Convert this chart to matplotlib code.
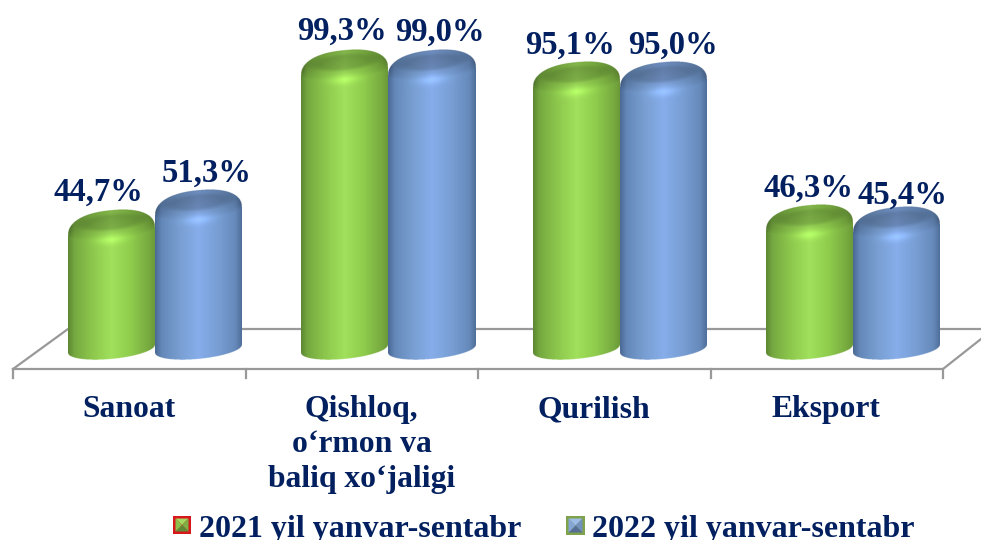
import numpy as np
import matplotlib
matplotlib.use("Agg")
import matplotlib.pyplot as plt
from matplotlib.patches import Polygon

categories = ["Sanoat", "Qishloq,\no‘rmon va\nbaliq xo‘jaligi", "Qurilish", "Eksport"]
series_names = ["2021 yil yanvar-sentabr", "2022 yil yanvar-sentabr"]
values_2021 = [44.7, 99.3, 95.1, 46.3]
values_2022 = [51.3, 99.0, 95.0, 45.4]
labels_2021 = ["44,7%", "99,3%", "95,1%", "46,3%"]
labels_2022 = ["51,3%", "99,0%", "95,0%", "45,4%"]

navy = "#02205f"
grey = "#999999"
font = "Liberation Serif"

# shading across the cylinder, left edge to right edge
stops = [-1, -0.85, -0.45, 0, 0.45, 0.85, 1]
green = [(.36, .53, .20), (.46, .66, .25), (.55, .78, .30), (.63, .88, .36),
         (.56, .80, .30), (.47, .67, .25), (.42, .60, .22)]
blue = [(.29, .41, .58), (.39, .53, .72), (.47, .62, .82), (.53, .68, .92),
        (.47, .62, .83), (.40, .54, .73), (.31, .43, .60)]

px = 2.93  # pixels per percent
bar_w = 87 / 232.5

fig = plt.figure(figsize=(9.81, 5.4), dpi=100)

# pixel layer for floor, category names and legend
fx = fig.add_axes([0, 0, 1, 1], zorder=1)
fx.set_xlim(0, 981)
fx.set_ylim(540, 0)
fx.axis("off")

ax = fig.add_axes([0, 0, 1, 1], zorder=2)
ax.patch.set_alpha(0)
ax.axis("off")
xlim = (-155.5 / 232.5, (981 - 155.5) / 232.5)
ylim = (-199 / px, 341 / px)


def cylinder(xc, v, left, colors):
    s = 1 / px
    x0, x1 = (xc - bar_w, xc) if left else (xc, xc + bar_w)
    y0, y1 = -22 * s, v + 2 * s
    ny = int((y1 - y0) * px * 4)
    nx = 360
    xs = np.linspace(-1, 1, nx)
    ys = np.linspace(y1, y0, ny)
    u, y = np.meshgrid(xs, ys)
    root = np.sqrt(np.clip(1 - u**2, 0, 1))
    tilt = 4 * s * u

    rgb = np.stack([np.interp(u, stops, [c[i] for c in colors]) for i in range(3)], axis=-1)

    yc = v - 21 * s
    upper = yc + tilt + 21 * s * np.clip(1 - np.abs(u)**2.3, 0, 1)**(1 / 2.3)
    lower = -8 * s + tilt - 10 * s * root
    front = yc + tilt - 8 * s * root

    # rounded shoulder and dark cap on top
    t = np.clip((y - front) / np.maximum(upper - front, 1e-6), 0, 1)
    shade = 1 - 0.2 * t**0.7
    shine = 1 + 0.15 * np.exp(-(u / 0.35)**2) * np.exp(-((y - front) / (5 * s))**2)
    cap = ((u / 0.75)**2 + ((y - yc - tilt - 9 * s) / (8 * s))**2)
    shade = shade * (1 - 0.13 * np.clip((1.35 - cap) / 0.8, 0, 1))
    rgb = np.clip(rgb * (shade * shine)[..., None], 0, 1)

    alpha = ((y <= upper) & (y >= lower)).astype(float)
    img = np.dstack([rgb, alpha])
    ax.imshow(img, extent=(x0, x1, y0, y1), aspect="auto", interpolation="antialiased", zorder=3)


# floor of the 3d box
fx.plot([13, 943, 981], [369, 369, 339], color=grey, lw=1.6, zorder=1)
fx.plot([13, 68, 981], [369, 329, 329], color=grey, lw=1.6, zorder=1)
for i in range(5):
    tx = 13 + i * 232.5
    fx.plot([tx, tx], [369, 378], color=grey, lw=1.6, zorder=1)

for i in range(len(categories)):
    cylinder(i, values_2021[i], True, green)
    cylinder(i, values_2022[i], False, blue)
ax.set_xlim(xlim)
ax.set_ylim(ylim)

# value labels, moved by hand like in the source chart
off_2021 = [(-14, 9), (-3, 10), (-7, 9), (-1, 9)]
off_2022 = [(8, 9), (8, 10), (9, 9), (6, 4)]
for i in range(len(categories)):
    for v, lab, off, side in [(values_2021[i], labels_2021[i], off_2021[i], -0.5),
                              (values_2022[i], labels_2022[i], off_2022[i], 0.5)]:
        ax.annotate(lab, (i + side * bar_w, v), xytext=(off[0] * 0.72, off[1] * 0.72),
                    textcoords="offset points", ha="center", va="baseline",
                    family=font, weight="bold", fontsize=23.5, color=navy, zorder=5)

for i, name in enumerate(categories):
    fx.text(129.5 + i * 232, 395, name, ha="center", va="top", family=font, weight="bold",
            fontsize=22.8, color=navy, linespacing=1.27)


def legend_key(x, y, size, edge, colors):
    c = size / 2
    fx.add_patch(Polygon([(x, y), (x + size, y), (x + size, y + size), (x, y + size)],
                         fc=edge, ec="none", zorder=4))
    a, b = x + 2.5, x + size - 2.5
    d, e = y + 2.5, y + size - 2.5
    mid = (x + c, y + c)
    faces = [[(a, d), (b, d), mid], [(b, d), (b, e), mid], [(b, e), (a, e), mid], [(a, e), (a, d), mid]]
    for pts, col in zip(faces, colors):
        fx.add_patch(Polygon(pts, fc=col, ec="none", zorder=5))


legend_key(173, 516, 18, "#d8171c", ["#a5d860", "#7fae45", "#5f8a35", "#8cc04c"])
legend_key(566, 516, 19, "#7fa24d", ["#9dbde8", "#7290bd", "#566f96", "#85a5d6"])
# the source image crops the legend at its bottom edge
fx.text(199, 537, series_names[0], ha="left", va="baseline", family=font, weight="bold", fontsize=23, color=navy)
fx.text(592, 537, series_names[1], ha="left", va="baseline", family=font, weight="bold", fontsize=23, color=navy)

fig.savefig("out.png", dpi=100)
